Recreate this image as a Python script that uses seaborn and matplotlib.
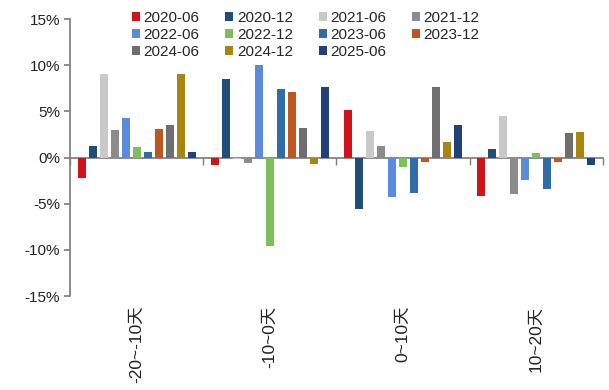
import numpy as np
import pandas as pd
import seaborn as sns
import matplotlib.pyplot as plt
from matplotlib.ticker import FuncFormatter

sns.set_theme(style="white")
plt.rcParams['font.family'] = ['Liberation Sans', 'Noto Sans CJK SC', 'DejaVu Sans']

# window buckets and report periods
buckets = ['-20~-10天', '-10~0天', '0~10天', '10~20天']
periods = ['2020-06', '2020-12', '2021-06', '2021-12', '2022-06', '2022-12',
           '2023-06', '2023-12', '2024-06', '2024-12', '2025-06']

# values in %, one list per period, ordered like buckets
v_2020_06 = [-2.2, -0.8, 5.1, -4.2]
v_2020_12 = [1.2, 8.5, -5.6, 0.9]
v_2021_06 = [9.0, -0.15, 2.9, 4.5]
v_2021_12 = [3.0, -0.6, 1.3, -4.0]
v_2022_06 = [4.3, 10.0, -4.3, -2.4]
v_2022_12 = [1.1, -9.6, -1.0, 0.5]
v_2023_06 = [0.6, 7.4, -3.8, -3.4]
v_2023_12 = [3.1, 7.1, -0.5, -0.5]
v_2024_06 = [3.5, 3.2, 7.6, 2.7]
v_2024_12 = [9.1, -0.7, 1.7, 2.8]
v_2025_06 = [0.6, 7.6, 3.5, -0.8]

series = [v_2020_06, v_2020_12, v_2021_06, v_2021_12, v_2022_06, v_2022_12,
          v_2023_06, v_2023_12, v_2024_06, v_2024_12, v_2025_06]

colors = ['#D0121B', '#1F4E79', '#C9C9C9', '#8C8C8C', '#5A8BDD', '#7DC05A',
          '#2E6DA8', '#C0571E', '#6E6E6E', '#A8850F', '#22407A']

rows = []
for p, vals in zip(periods, series):
    for b, v in zip(buckets, vals):
        rows.append({'bucket': b, 'period': p, 'value': v})
df = pd.DataFrame(rows)

fig = plt.figure(figsize=(6.09, 3.9), dpi=100)
ax = fig.add_axes([0.115, 0.241, 0.875, 0.71])

sns.barplot(data=df, x='bucket', y='value', hue='period', order=buckets,
            hue_order=periods, palette=colors, width=0.91, gap=0.27,
            errorbar=None, saturation=1, linewidth=0, ax=ax)

ax.set_ylim(-15, 15)
ax.set_xlim(-0.5, len(buckets) - 0.5)
ax.set_yticks(np.arange(-15, 16, 5))
ax.yaxis.set_major_formatter(FuncFormatter(lambda v, _: f'{v:.0f}%'))
ax.set_xlabel('')
ax.set_ylabel('')

for s in ['top', 'right', 'bottom']:
    ax.spines[s].set_visible(False)
ax.spines['left'].set_color('#7f7f7f')
ax.tick_params(axis='y', direction='out', length=4, color='#7f7f7f',
               left=True, labelsize=11, labelcolor='#222222', pad=3)
ax.tick_params(axis='x', length=0, labelsize=12.5, labelcolor='#222222',
               pad=7, labelrotation=90)

# zero line with category separator ticks pointing down
sec = ax.secondary_xaxis(0.5)
sec.set_xticks(np.arange(-0.5, len(buckets), 1.0))
sec.set_xticklabels([])
for s in sec.spines.values():
    s.set_color('#7f7f7f')
sec.xaxis.set_ticks_position('bottom')
sec.tick_params(axis='x', direction='out', length=5, width=1, color='#7f7f7f')

# legend filled row by row, like the original
handles, labels = ax.get_legend_handles_labels()
order = [0, 4, 8, 1, 5, 9, 2, 6, 10, 3, 7]
ax.legend([handles[i] for i in order], [labels[i] for i in order], ncol=4,
          loc='upper left', bbox_to_anchor=(132 / 609, 1 - 11 / 390),
          bbox_transform=fig.transFigure, frameon=False, fontsize=11,
          handlelength=0.5, handleheight=0.5, handletextpad=0.25,
          columnspacing=1.7, labelspacing=0.2, borderpad=0,
          borderaxespad=0)

fig.savefig('out.png', dpi=100)
